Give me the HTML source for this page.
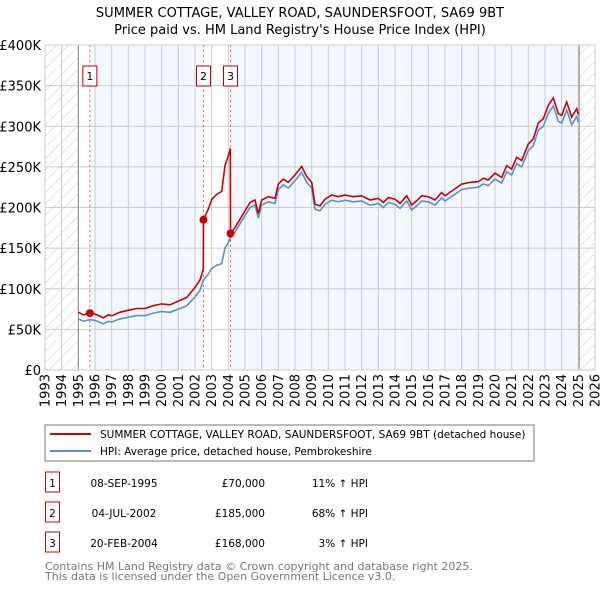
<!DOCTYPE html>
<html><head><meta charset="utf-8"><style>
body{margin:0;background:#fff;font-family:"DejaVu Sans","Liberation Sans",sans-serif;}
svg text{font-family:"DejaVu Sans","Liberation Sans",sans-serif;}
</style></head><body>
<svg id="chart" width="600" height="590" xmlns="http://www.w3.org/2000/svg">
<defs>
<pattern id="hatch" patternUnits="userSpaceOnUse" width="8" height="8" patternTransform="rotate(45)">
<line x1="0" y1="0" x2="0" y2="8" stroke="#ccc" stroke-width="1"/></pattern>
</defs>
<text x="300" y="17" text-anchor="middle" font-size="13">SUMMER COTTAGE, VALLEY ROAD, SAUNDERSFOOT, SA69 9BT</text>
<text x="300" y="34" text-anchor="middle" font-size="13">Price paid vs. HM Land Registry's House Price Index (HPI)</text>
<g id="plot"></g>
<g>
<rect x="45" y="425" width="489" height="36" fill="#fff" stroke="#777"/>
<line x1="50" y1="434" x2="91" y2="434" stroke="#cc0000" stroke-width="2"/>
<text x="100" y="438" font-size="10.5">SUMMER COTTAGE, VALLEY ROAD, SAUNDERSFOOT, SA69 9BT (detached house)</text>
<line x1="50" y1="451" x2="91" y2="451" stroke="#5b8fd0" stroke-width="2"/>
<text x="100" y="455" font-size="10.5">HPI: Average price, detached house, Pembrokeshire</text>
</g>
<g id="table"></g>
<text x="45" y="570" font-size="11" fill="#777">Contains HM Land Registry data © Crown copyright and database right 2025.</text>
<text x="45" y="580" font-size="11" fill="#777">This data is licensed under the Open Government Licence v3.0.</text>
</svg>
<script>
const hpiYears=[1995.0,1995.3,1995.7,1996.0,1996.5,1996.8,1997.0,1997.5,1998.0,1998.5,1999.0,1999.5,2000.0,2000.5,2001.0,2001.5,2002.0,2002.3,2002.5,2002.8,2003.0,2003.3,2003.6,2003.8,2004.0,2004.13,2004.4,2004.7,2005.0,2005.3,2005.6,2005.8,2006.0,2006.4,2006.8,2007.0,2007.3,2007.6,2008.0,2008.4,2008.7,2009.0,2009.2,2009.5,2009.8,2010.2,2010.6,2011.0,2011.5,2012.0,2012.5,2013.0,2013.3,2013.6,2014.0,2014.3,2014.7,2015.0,2015.3,2015.6,2016.0,2016.4,2016.8,2017.0,2017.5,2018.0,2018.5,2019.0,2019.3,2019.6,2020.0,2020.4,2020.7,2021.0,2021.3,2021.6,2022.0,2022.3,2022.6,2022.9,2023.2,2023.5,2023.8,2024.0,2024.3,2024.6,2024.9,2025.0];
const hpiValues=[63,60,62,61,57,60,59,63,65,67,67,70,72,71,75,79,90,98,110,118,125,129,131,150,157,163,170,180,190,200,203,187,203,207,205,222,228,224,233,243,231,224,198,196,204,209,207,209,207,208,203,205,200,206,204,199,208,197,202,208,207,203,212,208,215,222,224,225,229,227,235,230,244,240,254,250,270,276,295,300,316,325,306,304,320,302,312,305];
const sales=[{n:"1",t:1995.69,v:70000,date:"08-SEP-1995",price:"£70,000",pct:"11% ↑ HPI"},{n:"2",t:2002.51,v:185000,date:"04-JUL-2002",price:"£185,000",pct:"68% ↑ HPI"},{n:"3",t:2004.13,v:168000,date:"20-FEB-2004",price:"£168,000",pct:"3% ↑ HPI"}];
const yTicks=[0,50,100,150,200,250,300,350,400];
const yTickLabels=["£0","£50K","£100K","£150K","£200K","£250K","£300K","£350K","£400K"];
const xTicks=[1993,1994,1995,1996,1997,1998,1999,2000,2001,2002,2003,2004,2005,2006,2007,2008,2009,2010,2011,2012,2013,2014,2015,2016,2017,2018,2019,2020,2021,2022,2023,2024,2025,2026];

const X0=45,X1=595,Y0=370,Y1=45;
const xs=t=>X0+(t-1993)*(X1-X0)/33;
const ys=v=>Y0-v*(Y0-Y1)/400;
const NS="http://www.w3.org/2000/svg";
const plot=document.getElementById('plot');
function mk(tag,attrs,parent){const e=document.createElementNS(NS,tag);for(const k in attrs)e.setAttribute(k,attrs[k]);(parent||plot).appendChild(e);return e;}

let e;
e=mk('rect',{x:X0,y:Y1,width:X1-X0,height:Y0-Y1,fill:'#fff'});


e=mk('rect',{x:xs(sales[0].t),y:Y1,width:xs(sales[1].t)-xs(sales[0].t),height:Y0-Y1,fill:'#f3f7fe'});


e=mk('rect',{x:xs(sales[2].t),y:Y1,width:xs(2025.05)-xs(sales[2].t),height:Y0-Y1,fill:'#f3f7fe'});


e=mk('rect',{x:X0,y:Y1,width:xs(1995)-X0,height:Y0-Y1,fill:'url(#hatch)'});


e=mk('rect',{x:xs(2025.05),y:Y1,width:X1-xs(2025.05),height:Y0-Y1,fill:'url(#hatch)'});



yTicks.forEach((v,i)=>{
 const l=mk('line',{x1:X0,x2:X1,y1:ys(v),y2:ys(v),stroke:'#ccc','stroke-width':1});
 
 
 const t=mk('text',{x:X0-4,y:ys(v)+5,'text-anchor':'end','font-size':13});
 
 
 t.textContent=yTickLabels[i];
});
xTicks.forEach(yr=>{
 const l=mk('line',{x1:xs(yr),x2:xs(yr),y1:Y1,y2:Y0,stroke:'#ccc','stroke-width':1});
 
 
 const x=xs(yr)+4.5,y=374;
 const t=mk('text',{x:x,y:y,'text-anchor':'end','font-size':13,transform:'rotate(-90 '+x+' '+y+')'});
 
 
 t.textContent=yr;
});
e=mk('line',{x1:xs(1995),x2:xs(1995),y1:Y1,y2:Y0,stroke:'#888'});


e=mk('line',{x1:xs(2025.05),x2:xs(2025.05),y1:Y1,y2:Y0,stroke:'#888'});



sales.forEach(s=>{
 const l=mk('line',{x1:xs(s.t),x2:xs(s.t),y1:Y1,y2:Y0,stroke:'#e06060','stroke-dasharray':'2,3','stroke-width':1});
 
 
 const g=mk('g',{});
 
 
 mk('rect',{x:xs(s.t)-7,y:66,width:14,height:20,fill:'#fff',stroke:'#cc0000'},g);
 const t=mk('text',{x:xs(s.t),y:80,'text-anchor':'middle','font-size':11},g);
 t.textContent=s.n;
});

const hpiPts=hpiYears.map((t,i)=>xs(t).toFixed(1)+','+ys(hpiValues[i]).toFixed(1)).join(' ');
e=mk('polyline',{points:hpiPts,fill:'none',stroke:'#5b8fd0','stroke-width':1.6});



function hpiAt(t){for(let i=1;i<hpiYears.length;i++){if(t<=hpiYears[i]){const a=hpiYears[i-1],b=hpiYears[i];return hpiValues[i-1]+(hpiValues[i]-hpiValues[i-1])*(t-a)/(b-a);}}return hpiValues[hpiValues.length-1];}
const redPts=[];
hpiYears.forEach((t,i)=>{
 let s=sales[0];
 for(const q of sales) if(t>=q.t) s=q;
 const f=s.v/1000/hpiAt(s.t);
 redPts.push([t,hpiValues[i]*f]);
 sales.forEach((q,j)=>{if(j>0&&t<q.t&&(i+1<hpiYears.length&&hpiYears[i+1]>=q.t)){redPts.push([q.t-0.01,hpiAt(q.t-0.01)*f]);redPts.push([q.t,q.v/1000]);}});
});
e=mk('polyline',{points:redPts.map(p=>xs(p[0]).toFixed(1)+','+ys(p[1]).toFixed(1)).join(' '),fill:'none',stroke:'#cc0000','stroke-width':1.6});


sales.forEach(s=>{
 const c=mk('circle',{cx:xs(s.t),cy:ys(s.v/1000),r:4,fill:'#cc0000'});
 
 
});
e=mk('rect',{x:X0,y:Y1,width:X1-X0,height:Y0-Y1,fill:'none',stroke:'#ccc'});



const tb=document.getElementById('table');
sales.forEach((s,i)=>{
 const y=483+i*30;
 const g=mk('g',{},tb);
 
 
 mk('rect',{x:45.5,y:y-11,width:14,height:20,fill:'#fff',stroke:'#cc0000'},g);
 let t=mk('text',{x:52.5,y:y+4,'text-anchor':'middle','font-size':10.5},g);t.textContent=s.n;
 t=mk('text',{x:124,y:y+4,'text-anchor':'middle','font-size':10.5},g);t.textContent=s.date;
 t=mk('text',{x:265,y:y+4,'text-anchor':'end','font-size':10.5},g);t.textContent=s.price;
 t=mk('text',{x:368,y:y+4,'text-anchor':'end','font-size':10.5},g);t.textContent=s.pct;
});
</script>
</body></html>
